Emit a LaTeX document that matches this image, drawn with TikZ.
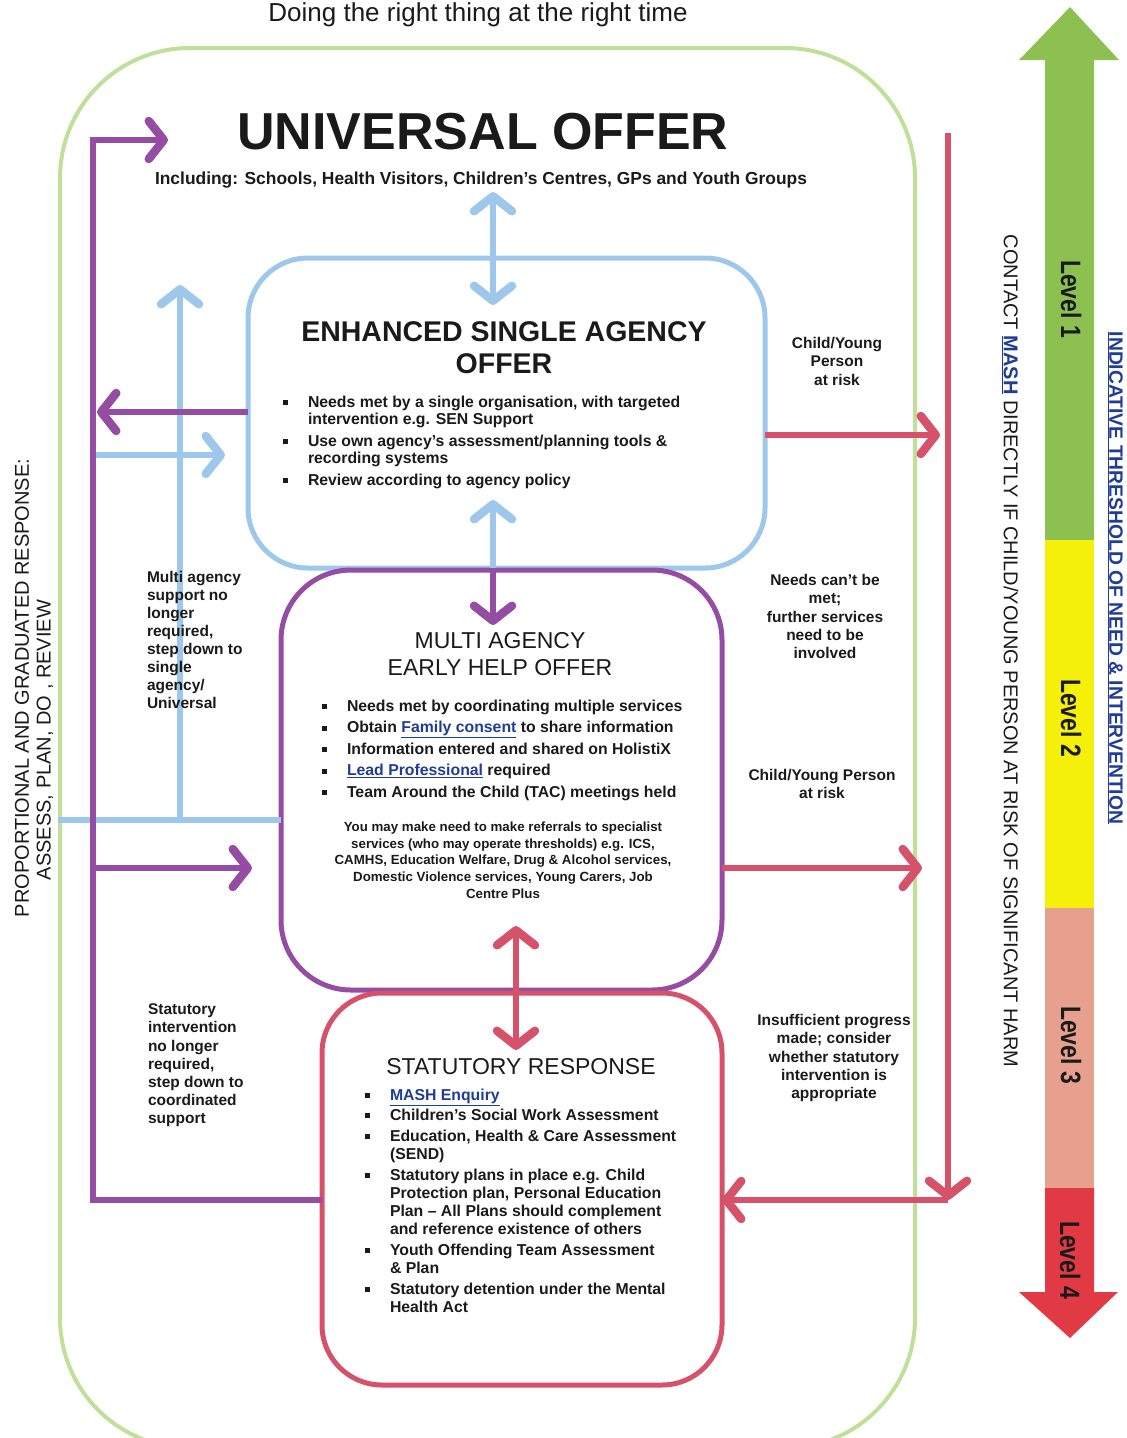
\documentclass[tikz,border=0pt]{standalone}
\usepackage{fontspec}
\setmainfont{Liberation Sans}
\newfontfamily\narrowf[FakeStretch=0.82]{Liberation Sans}
\usetikzlibrary{arrows.meta}
\definecolor{cblue}{HTML}{9DC8EC}
\definecolor{cpurple}{HTML}{954CA3}
\definecolor{cred}{HTML}{D6526A}
\definecolor{cgreen}{HTML}{C0DF98}
\definecolor{lvgreen}{HTML}{8CC152}
\definecolor{lvyellow}{HTML}{F5F00A}
\definecolor{lvsalmon}{HTML}{E8A08E}
\definecolor{lvred}{HTML}{E23A44}
\definecolor{linkblue}{HTML}{1F3C96}
\definecolor{ink}{HTML}{1A1A1A}
\newcommand{\bsq}{\makebox[25pt][l]{\rule[2pt]{5pt}{5pt}}}
\newcommand{\ind}{\hspace*{25pt}}
\newcommand{\lnk}[1]{\textcolor{linkblue}{\underline{#1}}}
\tikzset{barbtip/.tip={Straight Barb[length=15pt,width=38pt,line width=8.5pt,round]}}
\begin{document}
\begin{tikzpicture}[x=1pt,y=-1pt,
  every node/.style={inner sep=0pt,outer sep=0pt,text=ink},
  box/.style={draw,line width=5pt,rounded corners=#1},
  conn/.style={line width=6pt},
  ahead/.style={-barbtip},
  aboth/.style={barbtip-barbtip},
  bul/.style={anchor=north west,align=left,font=\fontsize{15.8}{#1}\selectfont\bfseries},
  lbl/.style={anchor=north,align=center,font=\fontsize{15.5}{18.4}\selectfont\bfseries},
  lbll/.style={anchor=north west,align=left,font=\fontsize{15.5}{18.1}\selectfont\bfseries},
  lvl/.style={rotate=-90,font=\fontsize{28}{30}\selectfont\narrowf\bfseries}
]
\useasboundingbox (0,0) rectangle (1127,1438);
\clip (0,0) rectangle (1127,1438);

% universal frame
\node[draw=cgreen,line width=4pt,rounded corners=130pt,minimum width=855pt,minimum height=1400pt] (univ) at (487.5,748) {};

% level bar
\fill[lvgreen] (1070,7) -- (1119,60) -- (1094,60) -- (1094,540) -- (1045,540) -- (1045,60) -- (1019,60) -- cycle;
\fill[lvyellow] (1045,540) rectangle (1094,908);
\fill[lvsalmon] (1045,908) rectangle (1094,1188);
\fill[lvred] (1045,1188) -- (1094,1188) -- (1094,1292) -- (1118,1292) -- (1070,1338) -- (1019,1292) -- (1045,1292) -- cycle;
\node[lvl] (lv1) at (1071,299) {Level 1};
\node[lvl] (lv2) at (1071,718) {Level 2};
\node[lvl] (lv3) at (1071,1045) {Level 3};
\node[lvl] (lv4) at (1070,1260) {Level 4};

% boxes
\node[box=60pt,draw=cblue,minimum width=517pt,minimum height=310pt] (esa) at (506.5,413) {};
\node[box=70pt,draw=cpurple,minimum width=441pt,minimum height=420pt] (maeh) at (501.5,780) {};
\node[box=60pt,draw=cred,minimum width=400pt,minimum height=392pt] (stat) at (522,1189) {};

% coordinates
\coordinate (pA) at (93,1200);
\coordinate (pB) at (93,140);
\coordinate (pC) at (168,140);
\coordinate (bT) at (493,192);
\coordinate (bL0) at (58,820);
\coordinate (bV0) at (180,820);
\coordinate (bV1) at (180,285);
\coordinate (bR0) at (95,455);
\coordinate (bR1) at (225,455);
\coordinate (pL1) at (97,412);
\coordinate (pR0) at (95,868);
\coordinate (pR1) at (252,868);
\coordinate (rE1) at (940,435);
\coordinate (rM1) at (922,868);
\coordinate (rV0) at (948,133);
\coordinate (rV1) at (948,1200);

% blue connectors
\draw[conn,cblue,aboth] (bT) -- ([xshift=-13.5pt,yshift=-47pt]esa.north);
\draw[conn,cblue] (bL0) -- ([yshift=-40pt]maeh.west);
\draw[conn,cblue,ahead] (bV0) -- (bV1);
\draw[conn,cblue,ahead] (bR0) -- (bR1);
\draw[conn,cblue,ahead] ([xshift=-8.5pt]maeh.north) -- ++(0,-70);

% purple connectors
\draw[conn,cpurple,ahead] ([yshift=-11pt]stat.west) -- (pA) -- (pB) -- (pC);
\draw[conn,cpurple,ahead] ([yshift=1pt]esa.west) -- (pL1);
\draw[conn,cpurple,ahead] (pR0) -- (pR1);
\draw[conn,cpurple,ahead] ([xshift=-13.5pt]esa.south) -- ++(0,57);

% red connectors
\draw[conn,cred,aboth] ([xshift=14.5pt,yshift=64pt]maeh.south) -- ([xshift=-6pt,yshift=-57pt]stat.north);
\draw[conn,cred,ahead] ([yshift=-22pt]esa.east) -- (rE1);
\draw[conn,cred,ahead] ([yshift=-88pt]maeh.east) -- (rM1);
\draw[conn,cred,ahead] (rV0) -- (rV1);
\draw[conn,cred,ahead] (rV1) -- ([yshift=-11pt]stat.east);

% titles
\node[anchor=base,font=\fontsize{26}{30}\selectfont] (title) at (478,21) {Doing the right thing at the right time};
\node[anchor=base,font=\fontsize{52}{56}\selectfont\bfseries] (uoT) at (483,149) {UNIVERSAL OFFER};
\node[anchor=base,font=\fontsize{17.4}{19}\selectfont\bfseries] (uoS) at (481,184) {Including: Schools, Health Visitors, Children's Centres, GPs and Youth Groups};

% ESA
\node[anchor=north,align=center,font=\fontsize{28.5}{32}\selectfont\bfseries] (esaT) at (504,322) {ENHANCED SINGLE AGENCY\\OFFER};
\node[bul=17] (esaB) at (283,396) {\bsq Needs met by a single organisation, with targeted\\
\ind intervention e.g. SEN Support\\[5pt]
\bsq Use own agency's assessment/planning tools \&\\
\ind recording systems\\[5pt]
\bsq Review according to agency policy};

% MAEH
\node[anchor=north,align=center,font=\fontsize{23}{27}\selectfont] (maehT) at (500,632) {MULTI AGENCY\\EARLY HELP OFFER};
\node[bul=21.5] (maehB) at (322,700) {\bsq Needs met by coordinating multiple services\\
\bsq Obtain \lnk{Family consent} to share information\\
\bsq Information entered and shared on HolistiX\\
\bsq \lnk{Lead Professional} required\\
\bsq Team Around the Child (TAC) meetings held};
\node[anchor=north,align=center,font=\fontsize{13.3}{16.6}\selectfont\bfseries] (maehP) at (503,822) {You may make need to make referrals to specialist\\
services (who may operate thresholds) e.g. ICS,\\
CAMHS, Education Welfare, Drug \& Alcohol services,\\
Domestic Violence services, Young Carers, Job\\
Centre Plus};

% Statutory
\node[anchor=base,font=\fontsize{23}{27}\selectfont] (statT) at (521,1074) {STATUTORY RESPONSE};
\node[bul=18] (statB) at (365,1089) {\bsq \lnk{MASH Enquiry}\\[2pt]
\bsq Children's Social Work Assessment\\[3pt]
\bsq Education, Health \& Care Assessment\\
\ind (SEND)\\[3pt]
\bsq Statutory plans in place e.g. Child\\
\ind Protection plan, Personal Education\\
\ind Plan – All Plans should complement\\
\ind and reference existence of others\\[3pt]
\bsq Youth Offending Team Assessment\\
\ind \& Plan\\[3pt]
\bsq Statutory detention under the Mental\\
\ind Health Act};

% side labels
\node[lbl] (cy1) at (837,337) {Child/Young\\Person\\at risk};
\node[lbl] (needs) at (825,574) {Needs can't be\\met;\\further services\\need to be\\involved};
\node[lbl] (cy2) at (822,769) {Child/Young Person\\at risk};
\node[lbl] (insuff) at (834,1014) {Insufficient progress\\made; consider\\whether statutory\\intervention is\\appropriate};
\node[lbll] (stepup) at (147,571) {Multi agency\\support no\\longer\\required,\\step down to\\single\\agency/\\Universal};
\node[lbll] (stepdown) at (148,1004) {Statutory\\intervention\\no longer\\required,\\step down to\\coordinated\\support};

% rotated texts
\node[rotate=90,font=\fontsize{20}{22}\selectfont] (resp1) at (22,688) {PROPORTIONAL AND GRADUATED RESPONSE:};
\node[rotate=90,font=\fontsize{20}{22}\selectfont] (resp2) at (45,740) {ASSESS, PLAN, DO , REVIEW};
\node[rotate=-90,font=\fontsize{20}{22}\selectfont] (contact) at (1010,651) {CONTACT \lnk{\textbf{MASH}} DIRECTLY IF CHILD/YOUNG PERSON AT RISK OF SIGNIFICANT HARM};
\node[rotate=-90,font=\fontsize{19.3}{21}\selectfont\bfseries,text=linkblue] (indic) at (1115,578) {\underline{INDICATIVE THRESHOLD OF NEED \& INTERVENTION}};
\end{tikzpicture}
\end{document}
